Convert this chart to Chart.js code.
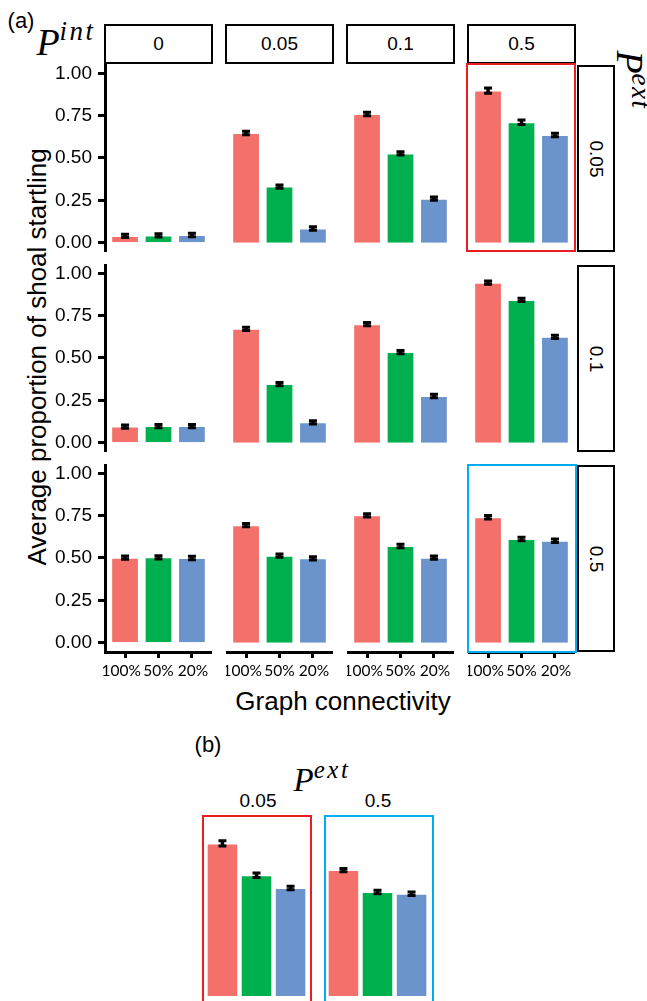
<!DOCTYPE html>
<html>
<head>
<meta charset="utf-8">
<script src="https://cdn.jsdelivr.net/npm/chart.js@4.4.1/dist/chart.umd.min.js"></script>
<style>
  html, body { margin: 0; padding: 0; overflow: hidden; background: #fff; }
  body { position: relative; width: 647px; height: 1001px; font-family: "Liberation Sans", Arial, sans-serif; color: #000; }
  .strip { position: absolute; box-sizing: border-box; border: 2px solid #000; background: #fff; font-size: 19px;
           display: flex; align-items: center; justify-content: center; z-index: 4; }
  .strip span { display: inline-block; white-space: nowrap; }
  .txt { position: absolute; white-space: nowrap; line-height: 1; transform: translate(-50%, -50%); }
  .math { font-family: "Liberation Serif", "DejaVu Serif", serif; font-style: italic; }
  .math sup { position: relative; vertical-align: baseline; }
  .box { position: absolute; box-sizing: border-box; border: 2px solid; z-index: 5; }
</style>
</head>
<body>
<script>
// ---- data ----
const connectivity = ['100%', '50%', '20%'];
const pIntLevels = ['0', '0.05', '0.1', '0.5'];
const pExtLevels = ['0.05', '0.1', '0.5'];
const yTicks = [0, 0.25, 0.5, 0.75, 1];

// mean proportion startling per P^int column, bars = 100%, 50%, 20%
const ext005 = [[0.040, 0.043, 0.045], [0.648, 0.331, 0.084], [0.760, 0.527, 0.260], [0.898, 0.711, 0.636]];
const ext01  = [[0.095, 0.098, 0.098], [0.672, 0.346, 0.120], [0.700, 0.535, 0.276], [0.945, 0.843, 0.625]];
const ext05  = [[0.502, 0.504, 0.500], [0.694, 0.514, 0.498], [0.752, 0.571, 0.502], [0.741, 0.612, 0.602]];

// standard errors
const err005 = [[0.01, 0.01, 0.01], [0.01, 0.01, 0.01], [0.01, 0.01, 0.01], [0.015, 0.013, 0.01]];
const err01  = [[0.01, 0.01, 0.01], [0.01, 0.01, 0.01], [0.01, 0.01, 0.01], [0.01, 0.01, 0.01]];
const err05  = [[0.01, 0.01, 0.01], [0.01, 0.01, 0.01], [0.01, 0.01, 0.01], [0.01, 0.01, 0.01]];

const barColors = ['#F3716A', '#00B04F', '#6B93CC'];

// ---- layout ----
const Y_AXIS_W = 60, X_AXIS_H = 40;
const PANEL_W = 107, PANEL_H = 188;
const colLeft = [105, 226, 347, 468];
const rowTop = [64, 264, 464];

Chart.defaults.font.family = '"Liberation Sans", Arial, sans-serif';
Chart.defaults.color = '#000';

function drawErrors(chart, errors) {
  const ctx = chart.ctx;
  const y = chart.scales.y;
  const data = chart.data.datasets[0].data;
  ctx.save();
  ctx.strokeStyle = '#000';
  chart.getDatasetMeta(0).data.forEach((bar, i) => {
    const v = data[i].y, e = errors[i];
    const top = y.getPixelForValue(v + e), bot = y.getPixelForValue(v - e);
    ctx.lineWidth = 3.5;
    ctx.beginPath(); ctx.moveTo(bar.x, top); ctx.lineTo(bar.x, bot); ctx.stroke();
    ctx.lineWidth = 3;
    ctx.beginPath();
    ctx.moveTo(bar.x - 4, top); ctx.lineTo(bar.x + 4, top);
    ctx.moveTo(bar.x - 4, bot); ctx.lineTo(bar.x + 4, bot);
    ctx.stroke();
  });
  ctx.restore();
}

// label text as set in the figure: first label sits a little left, last a little right
function tickText(v) {
  const lab = connectivity[v - 1];
  if (v === 1) return lab + '\u2002';
  if (v === connectivity.length) return '\u2009' + lab;
  return lab;
}

function makePanel(box, values, errors, o) {
  const yw = o.showY ? Y_AXIS_W : 0, xh = o.showX ? X_AXIS_H : 0;
  const div = document.createElement('div');
  div.style.cssText = `position:absolute;left:${box.left - yw}px;top:${box.top}px;` +
                      `width:${box.width + yw}px;height:${box.height + xh}px;z-index:2`;
  const cv = document.createElement('canvas');
  cv.width = box.width + yw;
  cv.height = box.height + xh;
  div.appendChild(cv);
  document.body.appendChild(div);

  new Chart(cv, {
    type: 'bar',
    data: {
      datasets: [{
        data: values.map((v, i) => ({ x: i + 1, y: v })),
        backgroundColor: barColors,
        borderColor: 'rgba(255,255,255,0.45)',
        borderWidth: 1,
        barPercentage: o.barPct,
        categoryPercentage: 1,
      }]
    },
    options: {
      responsive: false,
      animation: false,
      layout: { padding: 0 },
      plugins: { legend: { display: false }, tooltip: { enabled: false } },
      scales: {
        x: {
          type: 'linear', min: 0.4, max: 3.6, offset: false, display: o.showX,
          afterBuildTicks: s => { s.ticks = connectivity.map((_, i) => ({ value: i + 1 })); },
          afterFit: s => { s.height = xh; s.paddingLeft = 0; s.paddingRight = 0; },
          ticks: { callback: tickText, font: { family: 'Lato, "Open Sans", sans-serif', size: 15.5 },
                   padding: 4, maxRotation: 0, autoSkip: false },
          grid: { display: true, offset: false, drawOnChartArea: false, drawTicks: true, tickLength: 6, tickWidth: 3, tickColor: '#000' },
          border: { display: true, color: '#000', width: 3 },
        },
        y: {
          min: o.yMin, max: o.yMax, display: o.showY,
          afterBuildTicks: s => { s.ticks = yTicks.map(v => ({ value: v })); },
          afterFit: s => { s.width = yw; s.paddingTop = 0; s.paddingBottom = 0; },
          ticks: { callback: v => v.toFixed(2), font: { size: 19 }, padding: 6 },
          grid: { display: true, drawOnChartArea: false, drawTicks: true, tickLength: 7, tickWidth: 3, tickColor: '#000' },
          border: { display: true, color: '#000', width: 3 },
        }
      }
    },
    plugins: [{ id: 'errorBars', afterDatasetsDraw: chart => drawErrors(chart, errors) }]
  });
}

function addHTML(html) { document.body.insertAdjacentHTML('beforeend', html); }

// ---- part (a) ----
const rowsData = [ext005, ext01, ext05];
const rowsErr = [err005, err01, err05];
rowsData.forEach((row, r) => {
  row.forEach((vals, c) => {
    makePanel({ left: colLeft[c], top: rowTop[r], width: PANEL_W, height: PANEL_H }, vals, rowsErr[r][c],
              { showY: c === 0, showX: r === 2, yMin: -0.055, yMax: 1.055, barPct: 0.83 });
  });
});

pIntLevels.forEach((lab, c) => {
  addHTML(`<div class="strip" style="left:${colLeft[c] - 1}px;top:24px;width:109px;height:40px"><span>${lab}</span></div>`);
});
pExtLevels.forEach((lab, r) => {
  addHTML(`<div class="strip" style="left:577px;top:${rowTop[r] + 1}px;width:38px;height:187px"><span style="transform:rotate(90deg)">${lab}</span></div>`);
});

addHTML(`<div class="box" style="left:466px;top:63px;width:110px;height:189px;border-color:#ED1C24"></div>`);
addHTML(`<div class="box" style="left:467px;top:464px;width:110px;height:189px;border-color:#00AEEF"></div>`);

addHTML(`<div class="txt" style="left:21px;top:21px;font-size:22px">(a)</div>`);
addHTML(`<div class="txt math" style="left:66px;top:42px;font-size:38px">P<sup style="font-size:27px;top:-15px;letter-spacing:2.5px">int</sup></div>`);
addHTML(`<div class="txt math" style="left:630px;top:80px;font-size:38px;transform:translate(-50%,-50%) rotate(90deg)">P<sup style="font-size:27px;top:-15px;letter-spacing:1.5px">ext</sup></div>`);
addHTML(`<div class="txt" style="left:37px;top:357px;font-size:26px;transform:translate(-50%,-50%) rotate(-90deg)">Average proportion of shoal startling</div>`);
addHTML(`<div class="txt" style="left:343px;top:701px;font-size:26px">Graph connectivity</div>`);

// ---- part (b) ----
makePanel({ left: 202, top: 815, width: 109, height: 200 }, ext005[3], err005[3],
          { showY: false, showX: false, yMin: -0.1115, yMax: 1.065, barPct: 0.926 });
makePanel({ left: 323, top: 815, width: 109, height: 200 }, ext05[3], err05[3],
          { showY: false, showX: false, yMin: -0.1115, yMax: 1.065, barPct: 0.926 });
addHTML(`<div class="box" style="left:202px;top:815px;width:110px;height:200px;border-color:#ED1C24"></div>`);
addHTML(`<div class="box" style="left:324px;top:815px;width:110px;height:200px;border-color:#00AEEF"></div>`);
addHTML(`<div class="txt" style="left:208px;top:745px;font-size:22px">(b)</div>`);
addHTML(`<div class="txt math" style="left:322px;top:780px;font-size:33px">P<sup style="font-size:25px;top:-13px;letter-spacing:2.5px">ext</sup></div>`);
addHTML(`<div class="txt" style="left:258px;top:800px;font-size:19px">${pExtLevels[0]}</div>`);
addHTML(`<div class="txt" style="left:378px;top:800px;font-size:19px">${pExtLevels[2]}</div>`);
</script>
</body>
</html>
